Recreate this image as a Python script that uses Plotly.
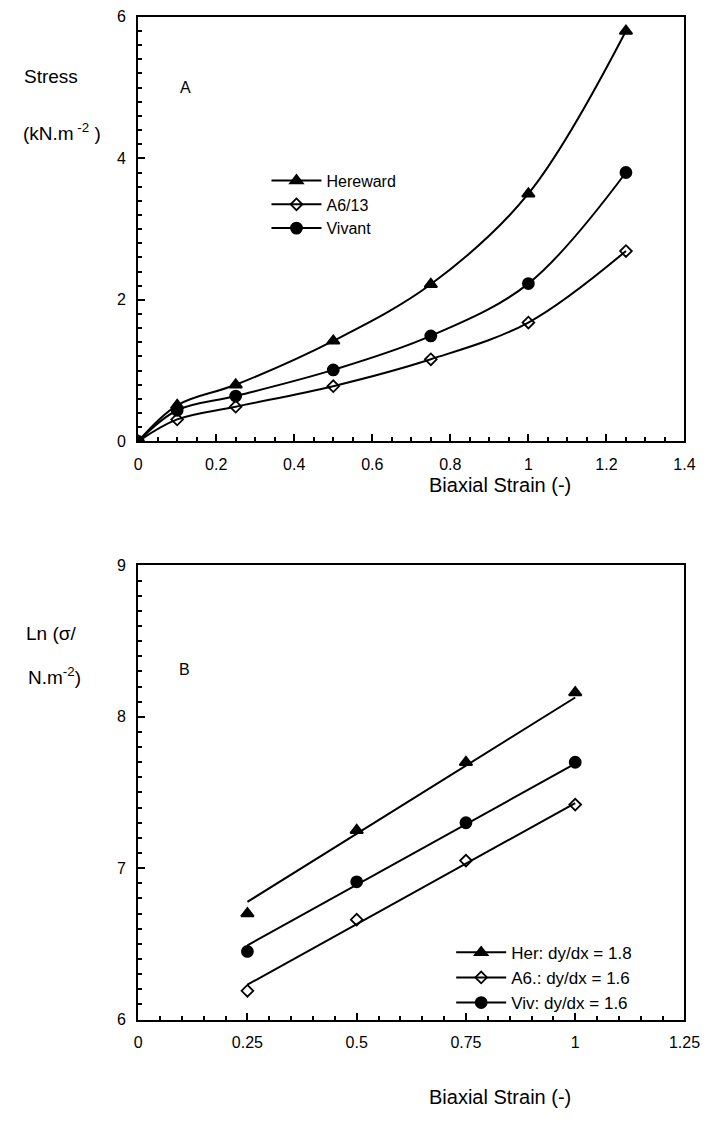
import plotly.graph_objects as go

# ---- Panel A: stress vs biaxial strain ----
strain_a = [0, 0.1, 0.25, 0.5, 0.75, 1.0, 1.25]
stress_hereward = [0, 0.51, 0.80, 1.42, 2.22, 3.50, 5.80]
stress_a613 = [0, 0.31, 0.49, 0.78, 1.16, 1.68, 2.69]
stress_vivant = [0, 0.44, 0.64, 1.01, 1.49, 2.23, 3.80]

# ---- Panel B: ln(stress) vs biaxial strain with fitted slopes ----
strain_b = [0.25, 0.5, 0.75, 1.0]
ln_hereward = [6.70, 7.25, 7.70, 8.16]
ln_a613 = [6.19, 6.66, 7.05, 7.42]
ln_vivant = [6.45, 6.91, 7.30, 7.70]
slopes = [1.8, 1.6, 1.6]
short_names = ["Her", "A6.", "Viv"]

names_a = ["Hereward", "A6/13", "Vivant"]
symbols = ["triangle-up", "diamond-open", "circle"]
msizes = [11, 9, 11]

FONT = "Liberation Sans, Arial, sans-serif"

fig = go.Figure()

for name, ys, sym, ms in zip(names_a, [stress_hereward, stress_a613, stress_vivant], symbols, msizes):
    fig.add_trace(go.Scatter(
        x=strain_a, y=ys, name=name, mode="lines+markers",
        line=dict(color="black", width=2, shape="spline", smoothing=1.0),
        marker=dict(symbol=sym, size=ms, color="black", line=dict(color="black", width=1.8)),
        xaxis="x", yaxis="y", legend="legend",
    ))

for sname, ys, sym, ms, k in zip(short_names, [ln_hereward, ln_a613, ln_vivant], symbols, msizes, slopes):
    # straight line through the centroid of the points with the stated slope
    xm = sum(strain_b) / len(strain_b)
    ym = sum(ys) / len(ys)
    xl = [strain_b[0], strain_b[-1]]
    yl = [ym + k * (x - xm) for x in xl]
    fig.add_trace(go.Scatter(
        x=xl, y=yl, mode="lines", showlegend=False,
        line=dict(color="black", width=2), xaxis="x2", yaxis="y2",
    ))
    fig.add_trace(go.Scatter(
        x=strain_b, y=ys, mode="markers", showlegend=False,
        marker=dict(symbol=sym, size=ms, color="black", line=dict(color="black", width=1.8)),
        xaxis="x2", yaxis="y2",
    ))
    # legend entry (line + marker sample)
    fig.add_trace(go.Scatter(
        x=[None], y=[None], mode="lines+markers",
        name=f"{sname}: dy/dx = {k}",
        line=dict(color="black", width=2),
        marker=dict(symbol=sym, size=ms, color="black", line=dict(color="black", width=1.8)),
        xaxis="x2", yaxis="y2", legend="legend2",
    ))

W, H = 717, 1128
L, R = 138, 700
a_top, a_bot = 9, 440
b_top, b_bot = 566, 1027

def px(x):
    return x / W

def py(y):
    return 1 - y / H

common = dict(
    showline=True, linecolor="black", linewidth=2, mirror=True,
    ticks="inside", ticklen=7, tickwidth=1.5, tickcolor="black",
    showgrid=False, zeroline=False, ticklabelstandoff=7,
    tickfont=dict(family=FONT, size=16, color="black"),
)

fig.update_layout(
    width=W, height=H,
    margin=dict(l=0, r=0, t=0, b=0),
    paper_bgcolor="white", plot_bgcolor="white",
    font=dict(family=FONT, color="black"),
    xaxis=dict(domain=[px(L), px(R)], anchor="y", range=[0, 1.4], dtick=0.2,
               minor=dict(dtick=0.05, ticks="inside", ticklen=4, tickcolor="black"),
               tickformat="~g", **common),
    yaxis=dict(domain=[py(a_bot), py(a_top)], anchor="x", range=[0, 6], dtick=2,
               minor=dict(dtick=0.2, ticks="inside", ticklen=4, tickcolor="black"),
               **common),
    xaxis2=dict(domain=[px(L), px(R)], anchor="y2", range=[0, 1.25], dtick=0.25,
                minor=dict(dtick=0.05, ticks="inside", ticklen=4, tickcolor="black"),
                tickformat="~g", **common),
    yaxis2=dict(domain=[py(b_bot), py(b_top)], anchor="x2", range=[6, 9], dtick=1,
                minor=dict(dtick=0.1, ticks="inside", ticklen=4, tickcolor="black"),
                **common),
    legend=dict(x=px(270), y=py(158), xanchor="left", yanchor="top",
                bgcolor="rgba(0,0,0,0)", borderwidth=0, itemwidth=50,
                tracegroupgap=0, font=dict(family=FONT, size=16, color="black")),
    legend2=dict(x=px(460), y=py(941), xanchor="left", yanchor="top",
                 bgcolor="rgba(0,0,0,0)", borderwidth=0, itemwidth=50,
                 tracegroupgap=0, font=dict(family=FONT, size=17, color="black")),
)

ann_font = dict(family=FONT, size=19, color="black")
annotations = [
    dict(text="Stress", x=px(48), y=py(70)),
    dict(text="(kN.m<sup> -2</sup> )", x=px(60), y=py(126)),
    dict(text="A", x=px(187), y=py(81), font=dict(family=FONT, size=16, color="black")),
    dict(text="Biaxial Strain (-)", x=px(510), y=py(484), font=dict(family=FONT, size=20, color="black")),
    dict(text="Ln (σ/", x=px(48), y=py(635)),
    dict(text="N.m<sup>-2</sup>)", x=px(52), y=py(678)),
    dict(text="B", x=px(186), y=py(672), font=dict(family=FONT, size=16, color="black")),
    dict(text="Biaxial Strain (-)", x=px(510), y=py(1106), font=dict(family=FONT, size=20, color="black")),
]
for a in annotations:
    a.setdefault("font", ann_font)
    a.update(xref="paper", yref="paper", showarrow=False,
             xanchor="center", yanchor="middle")
fig.update_layout(annotations=annotations)

fig.write_html("out.html")
